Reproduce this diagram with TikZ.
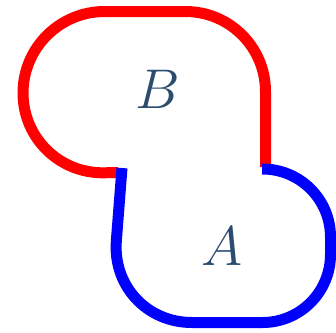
\documentclass[tikz,border=0pt]{standalone}
\usepackage{tikz}
\usetikzlibrary{positioning, calc}
\definecolor{rgRed}{HTML}{FF0000}
\definecolor{rgBlue}{HTML}{0000FF}
\definecolor{rgLabel}{HTML}{2B4C6F}
\newcommand{\rgtag}[1]{\scalebox{1.6}{$#1$}}
\tikzset{
  rgline/.style={line width=0.275cm},
  rglabel/.style={text=rgLabel, inner sep=0pt, font=\Huge},
}
\begin{document}
\begin{tikzpicture}[x=0.025cm, y=-0.025cm]
  \useasboundingbox (0,0) rectangle (336,332);
  % region B
  \coordinate (b0) at (265.5,167);
  \coordinate (b1) at (265.5,11.5);
  \coordinate (b2) at (23,11.5);
  \coordinate (b3) at (23,174.5);
  \coordinate (b4) at (118,172.5);
  % region A
  \coordinate (a0) at (262,169);
  \coordinate (a1) at (330.5,169);
  \coordinate (a2) at (330.5,322.5);
  \coordinate (a3) at (110,322.5);
  \coordinate (a4) at (122,168);
  \draw[rgline, rgRed, rounded corners=2cm] (b0) -- (b1) [rounded corners=2.04cm] -- (b2) -- (b3) -- (b4);
  \draw[rgline, rgBlue, rounded corners=1.7cm] (a0) -- (a1) -- (a2) [rounded corners=2.05cm] -- (a3) -- (a4);
  \node[rglabel] (lblB) at (158,89) {\rgtag{B}};
  \node[rglabel] (lblA) at (222,246) {\rgtag{A}};
\end{tikzpicture}
\end{document}
